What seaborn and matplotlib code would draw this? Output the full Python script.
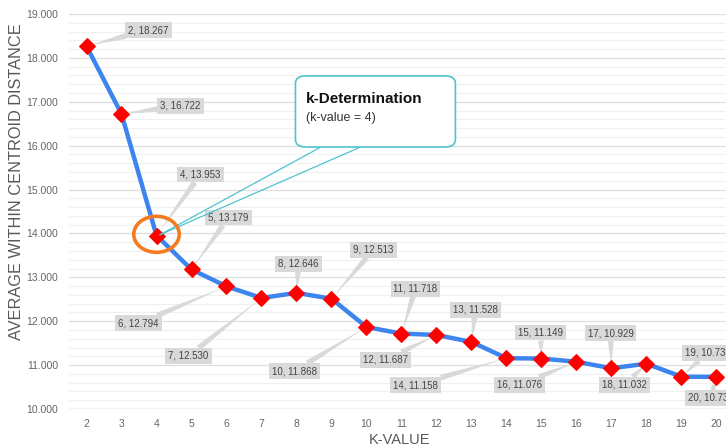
import matplotlib
matplotlib.use("Agg")
import matplotlib.pyplot as plt
import seaborn as sns
import pandas as pd
from matplotlib.patches import FancyBboxPatch, Ellipse
from matplotlib.ticker import MultipleLocator, FormatStrFormatter

k_values = [2, 3, 4, 5, 6, 7, 8, 9, 10, 11, 12, 13, 14, 15, 16, 17, 18, 19, 20]
avg_dist = [18.267, 16.722, 13.953, 13.179, 12.794, 12.530, 12.646, 12.513, 11.868,
            11.718, 11.687, 11.528, 11.158, 11.149, 11.076, 10.929, 11.032, 10.736, 10.732]
# label offsets in pixels (dx, dy)
label_offsets = [(62, 16), (59, 8), (44, 61), (37, 52), (-88, -37), (-73, -58), (2, 29),
                 (42, 49), (-72, -44), (14, 45), (-51, -25), (4, 32), (-91, -27), (-1, 26),
                 (-57, -23), (-1, 35), (-22, -21), (26, 24), (-6, -21)]

df = pd.DataFrame({"k": k_values, "dist": avg_dist})

sns.set_theme(style="white")
plt.rcParams["font.family"] = ["Liberation Sans", "DejaVu Sans"]

W, H = 726, 448
fig = plt.figure(figsize=(W / 100, H / 100), dpi=100)
ax = fig.add_axes([69 / W, 39 / H, 665 / W, 395 / H])

ax.set_xlim(1.5, 20.5)
ax.set_ylim(10, 19)
ax.yaxis.set_major_locator(MultipleLocator(1))
ax.yaxis.set_minor_locator(MultipleLocator(0.2))
ax.yaxis.set_major_formatter(FormatStrFormatter("%.3f"))
ax.set_xticks(k_values)
ax.grid(which="major", axis="y", color="#dedede", lw=0.9)
ax.grid(which="minor", axis="y", color="#f0f0f0", lw=0.8)
ax.set_axisbelow(True)
for s in ax.spines.values():
    s.set_visible(False)
ax.axhline(10, color="#cfcfcf", lw=1, zorder=1)
ax.tick_params(axis="both", which="both", length=0, labelsize=7.5, labelcolor="#666666")
ax.tick_params(axis="x", pad=7)
ax.tick_params(axis="y", pad=8)

sns.lineplot(data=df, x="k", y="dist", ax=ax, color="#3d85ee", lw=3.2,
             marker="D", markersize=8.5, markerfacecolor="#ff0000",
             markeredgecolor="#ff0000", zorder=3)

for k, v, (dx, dy) in zip(k_values, avg_dist, label_offsets):
    ax.annotate(f"{k}, {v:.3f}", xy=(k, v), xytext=(dx, dy), textcoords="offset pixels",
                ha="center", va="center", fontsize=7, color="#444444",
                bbox=dict(boxstyle="square,pad=0.3", fc="#d9d9d9", ec="none"),
                arrowprops=dict(arrowstyle="wedge,tail_width=0.6,shrink_factor=0.5",
                                fc="#d9d9d9", ec="none", shrinkA=0, shrinkB=2),
                zorder=2, annotation_clip=False)

# k-Determination callout
bx0, by0, bx1, by1 = 7.97, 15.97, 12.54, 17.59
ax.plot([8.7, 4.1], [by0, 13.97], color="#4fc3cf", lw=0.9, zorder=4)
ax.plot([9.83, 4.1], [by0, 13.97], color="#4fc3cf", lw=0.9, zorder=4)
box = FancyBboxPatch((bx0, by0), bx1 - bx0, by1 - by0,
                     boxstyle="round,pad=0,rounding_size=0.3", mutation_aspect=0.55,
                     fc="white", ec="#4fc3cf", lw=1.2, zorder=5)
ax.add_patch(box)
ax.text(8.28, 17.07, "k-Determination", fontsize=11, fontweight="bold",
        color="#111111", va="center", ha="left", zorder=6)
ax.text(8.28, 16.62, "(k-value = 4)", fontsize=9, color="#333333",
        va="center", ha="left", zorder=6)

ax.add_patch(Ellipse((4, 13.98), 1.3, 0.82, fill=False, ec="#f47b20", lw=2.6, zorder=4))

ax.set_xlabel("K-VALUE", fontsize=10.5, color="#595959", va="center")
ax.set_ylabel("AVERAGE WITHIN CENTROID DISTANCE", fontsize=11.8, color="#595959", va="center")
ax.xaxis.set_label_coords((400 - 69) / 665, (409 - 440) / 395)
ax.yaxis.set_label_coords((17 - 69) / 665, (409 - 182) / 395)

fig.savefig("out.png", dpi=100)
